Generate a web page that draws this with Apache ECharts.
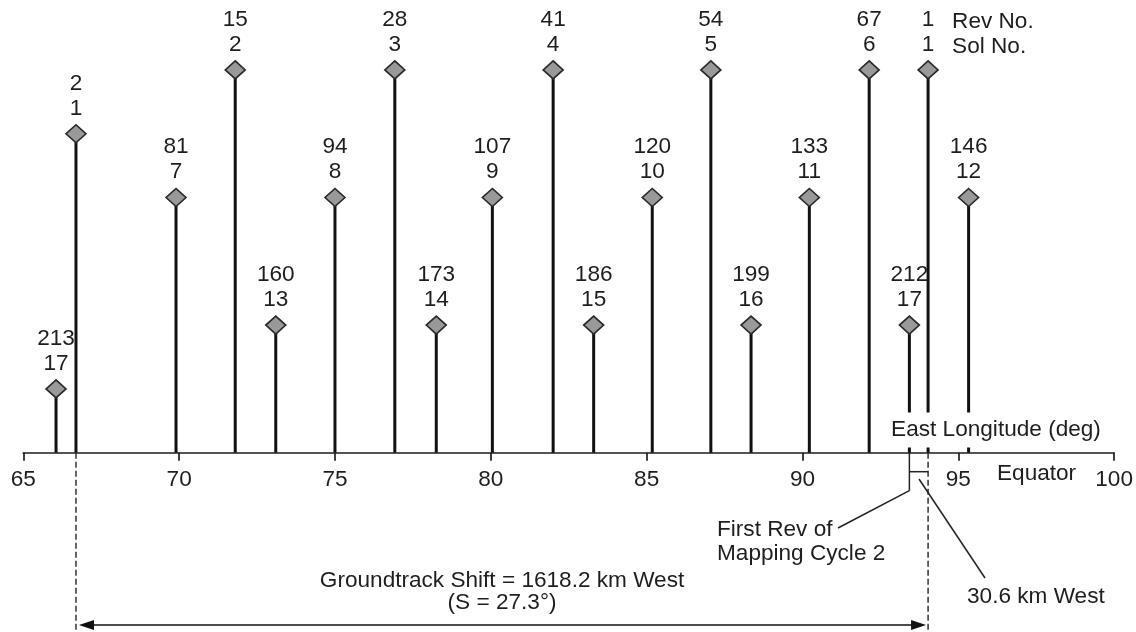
<!DOCTYPE html>
<html><head><meta charset="utf-8">
<script src="https://cdn.jsdelivr.net/npm/echarts@6.0.0/dist/echarts.min.js"></script>
<style>html,body{margin:0;padding:0;background:#fff}#c{width:1136px;height:632px}</style>
</head><body><div id="c"></div>
<script>
// ---- data ----
const revNo     = [213, 2, 81, 15, 160, 94, 28, 173, 107, 41, 186, 120, 54, 199, 133, 67, 212, 1, 146];
const solNo     = [17, 1, 7, 2, 13, 8, 3, 14, 9, 4, 15, 10, 5, 16, 11, 6, 17, 1, 12];
const longitude = [66.05, 66.69, 69.90, 71.80, 73.10, 75.00, 76.92, 78.25, 80.05, 82.00, 83.30, 85.18, 87.06, 88.35, 90.22, 92.14, 93.43, 94.03, 95.33];
const stemLevel = [1, 5, 4, 6, 2, 4, 6, 2, 4, 6, 2, 4, 6, 2, 4, 6, 2, 6, 4];
const xMin = 65, xMax = 100, xStep = 5;
const headerLabels = ['Rev No.', 'Sol No.'];
const axisTitle = 'East Longitude (deg)';
const equatorLabel = 'Equator';
const shiftLabels = ['Groundtrack Shift = 1618.2 km West', '(S = 27.3°)'];
const firstRevLabel = 'First Rev of\nMapping Cycle 2';
const gapLabel = '30.6 km West';
const shiftFromRev = 1, shiftToRev = 2, gapRev = 212;

const FONT = 'Liberation Sans, Arial, Helvetica, sans-serif';
const FS = 22.6;
const TXT = '#1e1e1e';

const chart = echarts.init(document.getElementById('c'), null, {renderer: 'canvas'});
const points = longitude.map((x, i) => [x, stemLevel[i], revNo[i], solNo[i]]);

chart.setOption({
  animation: false,
  backgroundColor: '#fff',
  grid: {left: 23.3, right: 21, top: 6.1, bottom: 179.3},
  xAxis: {
    type: 'value', min: xMin, max: xMax, interval: xStep,
    splitLine: {show: false},
    axisLine: {show: true, onZero: false, lineStyle: {color: '#1e1e1e', width: 1.7}},
    axisTick: {show: true, length: 8, lineStyle: {color: '#1e1e1e', width: 1.7}},
    axisLabel: {fontSize: FS, fontFamily: FONT, color: TXT, margin: 16, lineHeight: 22}
  },
  yAxis: {type: 'value', min: 0, max: 7, show: false},
  series: [
    {
      type: 'custom', z: 2, silent: true,
      data: points,
      renderItem: (params, api) => {
        const top = api.coord([api.value(0), api.value(1)]);
        const base = api.coord([api.value(0), 0]);
        return {type: 'line', shape: {x1: base[0], y1: base[1], x2: top[0], y2: top[1]},
                style: {stroke: '#111', lineWidth: 3}};
      }
    },
    {
      type: 'scatter', z: 3, silent: true,
      data: points,
      symbol: 'diamond', symbolSize: [20, 18],
      itemStyle: {color: '#999999', borderColor: '#2a2a2a', borderWidth: 1.6, opacity: 1},
      label: {
        show: true, position: 'top', distance: 3,
        formatter: p => p.data[2] + '\n' + p.data[3],
        fontSize: FS, fontFamily: FONT, color: TXT, lineHeight: 25
      }
    }
  ]
});

function drawAnnotations() {
  const px = v => chart.convertToPixel({gridIndex: 0}, [v, 0])[0];
  const py = v => chart.convertToPixel({gridIndex: 0}, [xMin, v])[1];
  const axisY = py(0);
  const iFrom = revNo.indexOf(shiftFromRev), iTo = revNo.indexOf(shiftToRev), iGap = revNo.indexOf(gapRev);
  const xA = px(longitude[iFrom]);   // rev 1
  const xB = px(longitude[iTo]);     // rev 2
  const xG = px(longitude[iGap]);    // rev 212
  const topY = py(stemLevel[iFrom]);
  const H = 632;
  const arrowY = 625;
  const ln = (x1, y1, x2, y2, extra) => Object.assign({
    type: 'line', z: 50, silent: true,
    shape: {x1, y1, x2, y2},
    style: {stroke: '#222', lineWidth: 1.5}
  }, extra || {});
  const txt = (x, y, text, align, extra) => Object.assign({
    type: 'text', z: 60, silent: true, x, y,
    style: Object.assign({text, fill: TXT, font: FS + 'px ' + FONT, align: align, verticalAlign: 'middle', lineHeight: 24}, extra || {})
  });
  const elements = [
    ln(xB, axisY, xB, H, {style: {stroke: '#333', lineWidth: 1.5, lineDash: [6, 3]}}),
    ln(xA, axisY, xA, H, {style: {stroke: '#333', lineWidth: 1.5, lineDash: [6, 3]}}),
    ln(xB + 10, arrowY, xA - 10, arrowY, {style: {stroke: '#111', lineWidth: 1.6}}),
    {type: 'polygon', z: 50, silent: true, shape: {points: [[xB + 3, arrowY], [xB + 18, arrowY - 5], [xB + 18, arrowY + 5]]}, style: {fill: '#111'}},
    {type: 'polygon', z: 50, silent: true, shape: {points: [[xA - 2, arrowY], [xA - 17, arrowY - 5], [xA - 17, arrowY + 5]]}, style: {fill: '#111'}},
    ln(xG, axisY, xG, axisY + 38),
    ln(xG, axisY + 19, xA, axisY + 19),
    ln(xG, axisY + 38, 838, 528),
    ln(919, 479, 985, 578),
    txt(717, 542, firstRevLabel, 'left', {lineHeight: 24}),
    txt(967, 597, gapLabel, 'left'),
    txt((xA + xB) / 2, 580.5, shiftLabels[0], 'center'),
    txt((xA + xB) / 2, 603, shiftLabels[1], 'center'),
    txt(997, 474, equatorLabel, 'left'),
    txt(xA + 24, topY - 48.5, headerLabels[0], 'left'),
    txt(xA + 24, topY - 23.5, headerLabels[1], 'left'),
    {type: 'text', z: 100, silent: true, x: 996, y: 430,
     style: {text: axisTitle, fill: TXT, font: FS + 'px ' + FONT, align: 'center', verticalAlign: 'middle',
             backgroundColor: '#fff', padding: [7, 3, 5, 3]}}
  ];
  chart.setOption({graphic: {elements}});
}
drawAnnotations();
</script>
</body></html>
